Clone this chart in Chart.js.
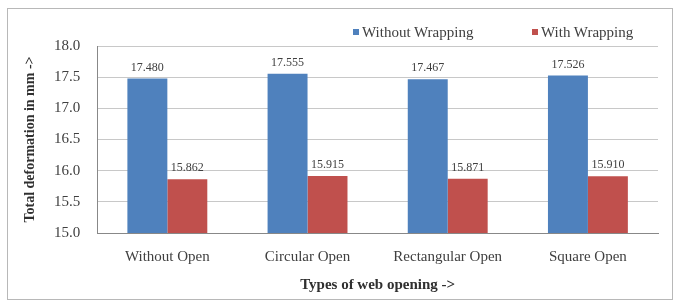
<!DOCTYPE html>
<html>
<head>
<meta charset="utf-8">
<script src="https://cdn.jsdelivr.net/npm/chart.js@4/dist/chart.umd.min.js"></script>
<style>
  body { margin: 0; background: #fff; }
  #wrap { position: absolute; left: 7px; top: 8px; width: 664px; height: 290px; border: 1px solid #b8b8b8; }
  .leg { position: absolute; top: 14px; font: 15px 'Liberation Serif'; color: #404040; white-space: nowrap; line-height: 18px; }
  .leg i { display: inline-block; width: 6px; height: 6px; margin-right: 3px; vertical-align: 2px; }
</style>
</head>
<body>
<div id="wrap"><canvas id="chart"></canvas></div>
<script>
// Data
const openings = ["Without Open", "Circular Open", "Rectangular Open", "Square Open"];
const withoutWrapping = [17.480, 17.555, 17.467, 17.526];
const withWrapping = [15.862, 15.915, 15.871, 15.910];
const seriesColors = ["#4F81BD", "#C0504D"];

// draws the value above each bar
const valueLabels = {
    id: "valueLabels",
    afterDatasetsDraw(chart) {
        const ctx = chart.ctx;
        ctx.save();
        ctx.font = "12px 'Liberation Serif'";
        ctx.fillStyle = "#404040";
        ctx.textAlign = "center";
        ctx.textBaseline = "bottom";
        chart.data.datasets.forEach((ds, i) => {
            chart.getDatasetMeta(i).data.forEach((bar, j) => {
                ctx.fillText(ds.data[j].toFixed(3), bar.x, bar.y - 5);
            });
        });
        ctx.restore();
    },
};

const ctx = document.getElementById("chart").getContext("2d");
const chart = new Chart(ctx, {
    type: "bar",
    data: {
        labels: openings,
        datasets: [
            { label: "Without Wrapping", data: withoutWrapping, backgroundColor: seriesColors[0] },
            { label: "With Wrapping", data: withWrapping, backgroundColor: seriesColors[1] },
        ],
    },
    options: {
        responsive: true,
        maintainAspectRatio: false,
        animation: false,
        layout: { padding: { top: 37, right: 14, left: 15, bottom: 1 } },
        datasets: {
            bar: { categoryPercentage: 0.57, barPercentage: 1.0 },
        },
        plugins: {
            legend: { display: false },
            tooltip: { enabled: false },
        },
        scales: {
            x: {
                grid: { display: false },
                border: { color: "#888" },
                ticks: {
                    color: "#404040",
                    font: { family: "'Liberation Serif'", size: 15 },
                    padding: 7,
                },
                title: {
                    display: true,
                    text: "Types of web opening ->",
                    color: "#303030",
                    font: { family: "'Liberation Serif'", size: 15, weight: "bold" },
                    padding: { top: 3 },
                },
            },
            y: {
                min: 15.0,
                max: 18.0,
                ticks: {
                    stepSize: 0.5,
                    color: "#404040",
                    font: { family: "'Liberation Serif'", size: 15 },
                    callback: (v) => v.toFixed(1),
                    padding: 17,
                },
                grid: { color: "#c8c8c8", drawTicks: false },
                border: { color: "#888" },
                title: {
                    display: true,
                    text: "Total deformation in mm ->",
                    color: "#303030",
                    font: { family: "'Liberation Serif'", size: 14, weight: "bold", lineHeight: 1 },
                    padding: { top: 0, bottom: 0 },
                },
            },
        },
    },
    plugins: [valueLabels],
});

// legend in html so the item spacing can follow the picture
const legendLeft = [345, 524];
chart.data.datasets.forEach((ds, i) => {
    const el = document.createElement("div");
    el.className = "leg";
    el.style.left = legendLeft[i] + "px";
    el.innerHTML = '<i style="background:' + ds.backgroundColor + '"></i>' + ds.label;
    document.getElementById("wrap").appendChild(el);
});
</script>
</body>
</html>
